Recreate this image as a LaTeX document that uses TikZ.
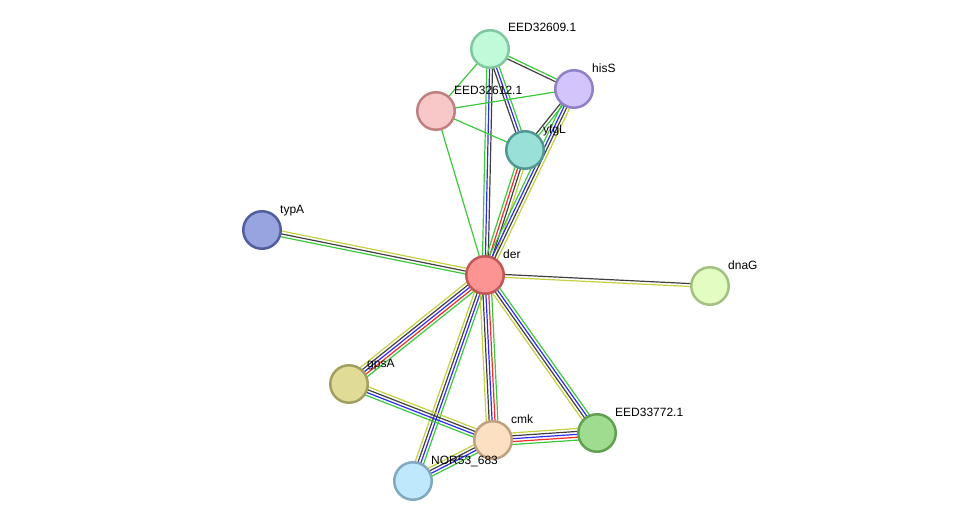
\documentclass[tikz,border=0pt]{standalone}
\usepackage{fontspec}
\setmainfont{Liberation Sans}
\usetikzlibrary{calc,backgrounds}
\definecolor{eg}{HTML}{3CC83C}
\definecolor{eb}{HTML}{2C2CF0}
\definecolor{ek}{HTML}{404040}
\definecolor{er}{HTML}{F52A2A}
\definecolor{ey}{HTML}{C4D040}
\tikzset{
  prot/.style={circle, minimum size=37.5pt, inner sep=0pt, line width=2.5pt},
  lbl/.style={anchor=base west, inner sep=0pt, font=\fontsize{12}{14}\selectfont},
  eline/.style={line width=1.2pt},
}
\newcommand\sedge[3]{%
  \foreach \ecol [count=\i] in {#3} {\xdef\ecount{\i}}%
  \foreach \ecol [count=\i] in {#3} {%
    \pgfmathsetmacro\eoff{(\i-(\ecount+1)/2)*2.9}%
    \draw[eline, draw=\ecol] ($(#1)!\eoff pt!90:(#2)$) -- ($(#2)!\eoff pt!-90:(#1)$);
  }%
}
\begin{document}
\begin{tikzpicture}[x=1pt,y=-1pt]
\useasboundingbox (0,0) rectangle (976,527);
\node[prot, fill={rgb,255:red,192;green,250;blue,216}, draw={rgb,255:red,128;green,200;blue,160}] (n09) at (490,49) {};
\node[prot, fill={rgb,255:red,212;green,196;blue,252}, draw={rgb,255:red,144;green,128;blue,200}] (hisS) at (574,89) {};
\node[prot, fill={rgb,255:red,248;green,200;blue,200}, draw={rgb,255:red,192;green,128;blue,128}] (n12) at (436,111) {};
\node[prot, fill={rgb,255:red,152;green,224;blue,216}, draw={rgb,255:red,80;green,152;blue,144}] (yfgL) at (525,150) {};
\node[prot, fill={rgb,255:red,152;green,164;blue,224}, draw={rgb,255:red,80;green,94;blue,160}] (typA) at (262,230) {};
\node[prot, fill={rgb,255:red,252;green,148;blue,148}, draw={rgb,255:red,192;green,88;blue,88}] (der) at (485,275) {};
\node[prot, fill={rgb,255:red,226;green,252;blue,194}, draw={rgb,255:red,162;green,192;blue,128}] (dnaG) at (710,286) {};
\node[prot, fill={rgb,255:red,224;green,220;blue,152}, draw={rgb,255:red,160;green,160;blue,96}] (gpsA) at (349,384) {};
\node[prot, fill={rgb,255:red,252;green,224;blue,194}, draw={rgb,255:red,192;green,160;blue,128}] (cmk) at (493,440) {};
\node[prot, fill={rgb,255:red,160;green,220;blue,144}, draw={rgb,255:red,96;green,160;blue,80}] (n772) at (597,433) {};
\node[prot, fill={rgb,255:red,192;green,232;blue,252}, draw={rgb,255:red,128;green,168;blue,192}] (nor) at (413,481) {};
\begin{scope}[on background layer]
\sedge{n09}{n12}{eg}
\sedge{n09}{hisS}{ek,eg}
\sedge{n09}{yfgL}{ek,eb,eg}
\sedge{n09}{der}{eg,eb,ek}
\sedge{n12}{hisS}{eg}
\sedge{n12}{yfgL}{eg}
\sedge{n12}{der}{eg}
\sedge{hisS}{yfgL}{ek,eg}
\sedge{der}{yfgL}{ey,ek,er,eg}
\sedge{der}{hisS}{ey,ek,eb,eg}
\sedge{typA}{der}{eg,ek,ey}
\sedge{der}{dnaG}{ey,ek}
\sedge{der}{gpsA}{ey,ek,eb,er,eg}
\sedge{der}{nor}{ey,ek,eb,eg}
\sedge{der}{cmk}{ey,ek,eb,er,eg}
\sedge{der}{n772}{ey,ek,eb,eg}
\sedge{gpsA}{cmk}{eg,eb,ek,ey}
\sedge{cmk}{n772}{eg,er,eb,ek,ey}
\sedge{cmk}{nor}{ey,ek,eb,eg}
\end{scope}
\foreach \n/\t in {n09/EED32609.1, hisS/hisS, n12/EED32612.1, yfgL/yfgL, typA/typA, der/der, dnaG/dnaG, gpsA/gpsA, cmk/cmk, n772/EED33772.1, nor/NOR53\_683}
  \node[lbl] (\n-l) at ($(\n)+(18,-17)$) {\t};
\end{tikzpicture}
\end{document}
